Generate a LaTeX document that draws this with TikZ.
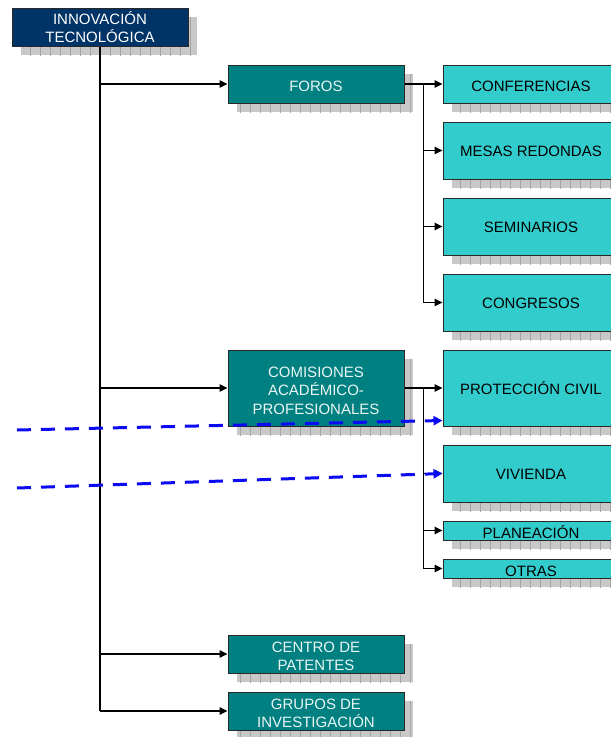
\documentclass[tikz,border=0pt]{standalone}
\usepackage{fontspec}
\setmainfont{Liberation Sans}
\usetikzlibrary{arrows.meta}
\definecolor{navy}{RGB}{0,51,102}
\definecolor{tealbox}{RGB}{0,128,128}
\definecolor{cyanbox}{RGB}{51,204,204}
\definecolor{shadowfill}{RGB}{200,200,200}
\definecolor{shadowline}{RGB}{165,165,165}
\definecolor{bdr}{RGB}{40,40,40}
\definecolor{paletext}{RGB}{235,245,245}
\definecolor{dashblue}{RGB}{10,10,245}
\tikzset{
  basebox/.style={draw=bdr, line width=1pt, inner sep=0pt, align=center,
    text depth=2pt, font=\fontsize{15}{18.5}\selectfont},
  rootbox/.style={basebox, fill=navy, text=white},
  darkbox/.style={basebox, fill=tealbox, text=paletext},
  lightbox/.style={basebox, fill=cyanbox, text=black},
  conn/.style={line width=1.3pt, black},
  arr/.style={conn, -{Triangle[length=8pt,width=7.5pt]}},
  bluedash/.style={line width=3pt, color=dashblue, dash pattern=on 14pt off 10pt,
    -{Triangle[length=9pt,width=9pt]}},
  shadowgrid/.style={draw=shadowline, line width=0.5pt}
}
% name, style, x1, y1, x2, y2, text height, text
\newcommand\orgbox[8]{%
  \fill[shadowfill] (#3+9,#4+9) rectangle (#5+9,#6+9);
  \begin{scope}
    \clip (#3+9,#4+9) rectangle (#5+9,#6+9);
    \draw[shadowgrid,step=10] (#3,#4) grid (#5+20,#6+20);
  \end{scope}
  \node[#2, text height=#7pt, minimum width={#5-#3}, minimum height={#6-#4}] (#1) at ({(#3+#5)/2},{(#4+#6)/2}) {#8};
}
\begin{document}
\begin{tikzpicture}[x=1pt,y=-1pt]
\useasboundingbox (0,0) rectangle (611,737);
\clip (0,0) rectangle (611,737);

\orgbox{root}{rootbox}{12}{8}{188}{46}{33.8}{INNOVACIÓN\\TECNOLÓGICA}
\orgbox{foros}{darkbox}{228}{65}{404}{103}{16.4}{FOROS}
\orgbox{conf}{lightbox}{443}{65}{619}{103}{16.4}{CONFERENCIAS}
\orgbox{mesas}{lightbox}{443}{122}{619}{179}{14.5}{MESAS REDONDAS}
\orgbox{semi}{lightbox}{443}{198}{619}{255}{14.5}{SEMINARIOS}
\orgbox{cong}{lightbox}{443}{274}{619}{331}{14.5}{CONGRESOS}
\orgbox{comis}{darkbox}{228}{350}{404}{426}{54.8}{COMISIONES\\ACADÉMICO-\\PROFESIONALES}
\orgbox{prot}{lightbox}{443}{350}{619}{426}{14.8}{PROTECCIÓN CIVIL}
\orgbox{viv}{lightbox}{443}{445}{619}{502}{14.5}{VIVIENDA}
\orgbox{plan}{lightbox}{443}{521}{619}{540}{17}{PLANEACIÓN}
\orgbox{otras}{lightbox}{443}{559}{619}{578}{17}{OTRAS}
\orgbox{centro}{darkbox}{228}{635}{404}{673}{35}{CENTRO DE\\PATENTES}
\orgbox{grupos}{darkbox}{228}{692}{404}{730}{35}{GRUPOS DE\\INVESTIGACIÓN}

% main trunk
\draw[conn] (root.south) -- (root.south |- grupos.west);
\foreach \n in {foros,comis,centro,grupos}
  \draw[arr] (root.south |- \n.west) -- (\n.west);

% foros group
\draw[conn] (foros.east) -- ++(19,0) coordinate (jf);
\draw[conn] (jf) -- (jf |- cong.west);
\foreach \n in {conf,mesas,semi,cong}
  \draw[arr] (jf |- \n.west) -- (\n.west);

% comisiones group
\draw[conn] (comis.east) -- ++(19,0) coordinate (jc);
\draw[conn] (jc) -- (jc |- otras.west);
\foreach \n in {prot,viv,plan,otras}
  \draw[arr] (jc |- \n.west) -- (\n.west);

% blue dashed arrows
\coordinate (b1) at (17,430);
\coordinate (b2) at (17,488);
\draw[bluedash] (b1) -- ([yshift=6pt]prot.south west);
\draw[bluedash] (b2) -- (viv.west);
\end{tikzpicture}
\end{document}
